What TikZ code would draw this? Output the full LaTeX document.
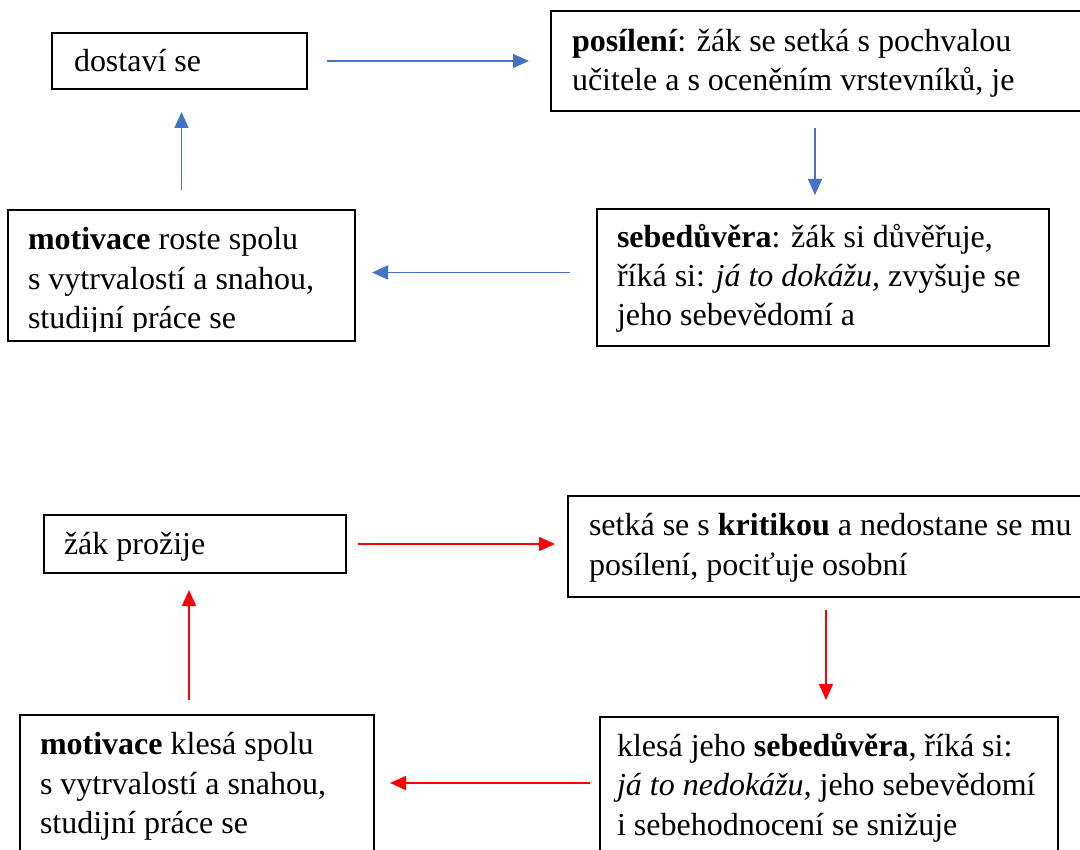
\documentclass[tikz,border=0pt]{standalone}
\usepackage{fontspec}
\setmainfont{Liberation Serif}
\usetikzlibrary{arrows.meta}
\definecolor{wblue}{HTML}{4472C4}
\definecolor{wred}{HTML}{FF0000}
\begin{document}
\begin{tikzpicture}[x=1pt,y=-1pt,
  box/.style={draw=black, line width=1.2pt, inner sep=0pt, outer sep=0pt, anchor=north west},
  txt/.style={anchor=base west, inner sep=0pt, outer sep=0pt, font=\fontsize{32}{39}\selectfont},
  barr/.style={draw=wblue, line width=1.5pt, -{Triangle[length=16pt,width=14pt]}},
  rarr/.style={draw=wred, line width=1.5pt, -{Triangle[length=16pt,width=14pt]}}]
\useasboundingbox (0,0) rectangle (1080,850);
\clip (0,0) rectangle (1080,850);
\fill[white] (0,0) rectangle (1080,850);

% ---- boxes (upper cycle) ----
\node[box, minimum width=255pt, minimum height=56pt]  (b1) at (52,33) {};
\node[box, minimum width=560pt, minimum height=100pt] (b2) at (551,11) {};
\node[box, minimum width=347pt, minimum height=131pt] (b3) at (8,210) {};
\node[box, minimum width=452pt, minimum height=137pt] (b4) at (597,209) {};
% ---- boxes (lower cycle) ----
\node[box, minimum width=302pt, minimum height=58pt]  (b5) at (44,515) {};
\node[box, minimum width=560pt, minimum height=101pt] (b6) at (568,496) {};
\node[box, minimum width=458pt, minimum height=160pt] (b7) at (600,717) {};
\node[box, minimum width=354pt, minimum height=160pt] (b8) at (20,715) {};

% ---- texts ----
\node[txt] (t1) at (74,72) {dostaví se};

\node[txt] (t2a) at (572,52) {\textbf{posílení}: žák se setká s pochvalou};
\node[txt] (t2b) at (572,91) {učitele a s oceněním vrstevníků, je};

\begin{scope}
\clip (8,210) rectangle (355,332);
\node[txt] (t3a) at (28,250) {\textbf{motivace} roste spolu};
\node[txt] (t3b) at (28,290) {s vytrvalostí a snahou,};
\node[txt] (t3c) at (28,329) {studijní práce se};
\end{scope}

\node[txt] (t4a) at (617,248) {\textbf{sebedůvěra}: žák si důvěřuje,};
\node[txt] (t4b) at (617,287) {říká si: \textit{já to dokážu,} zvyšuje se};
\node[txt] (t4c) at (617,326) {jeho sebevědomí a};

\node[txt] (t5) at (64,554) {žák prožije};

\node[txt] (t6a) at (589,535) {setká se s \textbf{kritikou} a nedostane se mu};
\node[txt] (t6b) at (589,575) {posílení, pociťuje osobní};

\node[txt] (t7a) at (617,756) {klesá jeho \textbf{sebedůvěra}, říká si:};
\node[txt] (t7b) at (617,795) {\textit{já to nedokážu,} jeho sebevědomí};
\node[txt] (t7c) at (617,835) {i sebehodnocení se snižuje};

\node[txt] (t8a) at (40,754) {\textbf{motivace} klesá spolu};
\node[txt] (t8b) at (40,794) {s vytrvalostí a snahou,};
\node[txt] (t8c) at (40,833) {studijní práce se};

% ---- blue arrows ----
\draw[barr, shorten <=20pt, shorten >=22pt] (b1.east) -- (b1.east -| b2.west);
\coordinate (c2) at ([xshift=-8pt]b4.north);
\draw[barr, shorten <=17pt, shorten >=14pt] (c2 |- b2.south) -- (c2);
\coordinate (c3) at ([yshift=5pt]b4.west);
\draw[barr, shorten <=27pt, shorten >=17pt] (c3) -- (c3 -| b3.east);
\draw[barr, shorten <=20pt, shorten >=23pt] (b3.north) -- (b3.north |- b1.south);

% ---- red arrows ----
\draw[rarr, shorten <=12pt, shorten >=13pt] (b5.east) -- (b5.east -| b6.west);
\coordinate (c6) at ([xshift=-3pt]b7.north);
\draw[rarr, shorten <=13pt, shorten >=17pt] (c6 |- b6.south) -- (c6);
\coordinate (c7) at ([yshift=14pt]b7.west);
\draw[rarr, shorten <=10pt, shorten >=16pt] (c7) -- (c7 -| b8.east);
\coordinate (c8) at ([xshift=-8pt]b8.north);
\draw[rarr, shorten <=15pt, shorten >=17pt] (c8) -- (c8 |- b5.south);
\end{tikzpicture}
\end{document}
